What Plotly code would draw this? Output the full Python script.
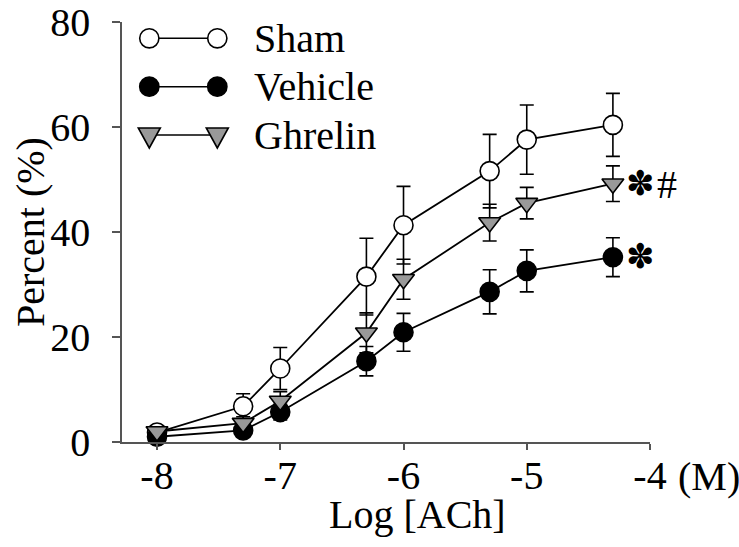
import numpy as np
import plotly.graph_objects as go

# ---------------- data ----------------
ach_molar = [1e-8, 5e-8, 1e-7, 5e-7, 1e-6, 5e-6, 1e-5, 5e-5]
log_ach = list(np.log10(ach_molar))

series_names = ["Sham", "Vehicle", "Ghrelin"]
sham = [1.8, 6.8, 14.0, 31.5, 41.3, 51.6, 57.6, 60.4]
sham_err = [0.8, 2.4, 4.0, 7.3, 7.4, 7.0, 6.6, 6.0]
vehicle = [1.0, 2.2, 5.7, 15.4, 20.9, 28.6, 32.6, 35.2]
vehicle_err = [0.5, 1.0, 1.5, 2.8, 3.6, 4.2, 4.0, 3.7]
ghrelin = [2.0, 3.6, 7.8, 20.8, 31.0, 41.8, 45.5, 49.2]
ghrelin_err = [0.5, 1.2, 1.8, 3.8, 3.8, 3.5, 3.0, 3.4]

x_ticks = [-8, -7, -6, -5, -4]
x_tick_labels = ["-8", "-7", "-6", "-5", "-4"]
y_ticks = [0, 20, 40, 60, 80]
y_tick_labels = ["0", "20", "40", "60", "80"]

sig_labels = {"Ghrelin": "#", "Vehicle": ""}

# ---------------- style ----------------
FONT = "Liberation Serif, Times New Roman, serif"
FS = 40
W, H = 739, 547
ML, MR, MT, MB = 122, 89, 22, 105
PW, PH = W - ML - MR, H - MT - MB

styles = {
    "Sham": dict(symbol="circle", size=19, color="white"),
    "Vehicle": dict(symbol="circle", size=19, color="black"),
    "Ghrelin": dict(symbol="triangle-down", size=19, color="#999999"),
}
values = {"Sham": (sham, sham_err), "Vehicle": (vehicle, vehicle_err), "Ghrelin": (ghrelin, ghrelin_err)}

fig = go.Figure()
for name in series_names:
    y, e = values[name]
    st = styles[name]
    fig.add_trace(go.Scatter(
        x=log_ach, y=y, name=name, mode="lines+markers",
        line=dict(color="black", width=1.8),
        marker=dict(symbol=st["symbol"], size=st["size"], color=st["color"],
                    line=dict(color="black", width=1.6)),
        error_y=dict(type="data", array=e, visible=True, color="black",
                     thickness=1.6, width=7),
        showlegend=False, cliponaxis=False,
    ))

# ---------------- custom legend (two symbols joined by a line) ----------------
def px2paper_x(px):
    return (px - ML) / PW

def px2paper_y(py):
    return (MT + PH - py) / PH

legend_rows = [38.3, 86.7, 135.0]
leg_x0, leg_x1, leg_text_x = 149.3, 217.3, 252
shapes = []
annotations = []
for name, ry in zip(series_names, legend_rows):
    yp = px2paper_y(ry)
    shapes.append(dict(type="line", xref="paper", yref="paper",
                       x0=px2paper_x(leg_x0), x1=px2paper_x(leg_x1), y0=yp, y1=yp,
                       line=dict(color="black", width=1.6), layer="above"))
    st = styles[name]
    for lx in (leg_x0, leg_x1):
        xa = px2paper_x(lx)
        if st["symbol"] == "circle":
            shapes.append(dict(type="circle", xref="paper", yref="paper",
                               xsizemode="pixel", ysizemode="pixel",
                               xanchor=xa, yanchor=yp,
                               x0=-9.6, x1=9.6, y0=-9.6, y1=9.6,
                               fillcolor=st["color"], line=dict(color="black", width=1.6),
                               layer="above"))
        else:
            shapes.append(dict(type="path", xref="paper", yref="paper",
                               xsizemode="pixel", ysizemode="pixel",
                               xanchor=xa, yanchor=yp,
                               path="M-11,7 L11,7 L0,-13 Z",
                               fillcolor=st["color"], line=dict(color="black", width=1.6),
                               layer="above"))
    annotations.append(dict(text=name, xref="paper", yref="paper",
                            x=px2paper_x(leg_text_x), y=yp, xanchor="left", yanchor="middle",
                            showarrow=False, font=dict(family=FONT, size=FS, color="black")))

# significance marks next to the last points
for name, extra in sig_labels.items():
    y, _ = values[name]
    annotations.append(dict(text="✽", x=log_ach[-1], y=y[-1], xref="x", yref="y",
                            xanchor="center", yanchor="middle", xshift=28, yshift=1,
                            showarrow=False,
                            font=dict(family="DejaVu Sans", size=34, color="black")))
    if extra:
        annotations.append(dict(text=extra, x=log_ach[-1], y=y[-1], xref="x", yref="y",
                                xanchor="center", yanchor="middle", xshift=54, yshift=-1,
                                showarrow=False,
                                font=dict(family=FONT, size=FS, color="black")))

# axis titles and unit label
annotations.append(dict(text="Log [ACh]", xref="paper", yref="paper",
                        x=px2paper_x(417), y=px2paper_y(514), xanchor="center", yanchor="middle",
                        showarrow=False, font=dict(family=FONT, size=FS, color="black")))
annotations.append(dict(text="Percent (%)", xref="paper", yref="paper",
                        x=px2paper_x(30), y=px2paper_y(232), xanchor="center", yanchor="middle",
                        textangle=-90, showarrow=False,
                        font=dict(family=FONT, size=FS, color="black")))
annotations.append(dict(text="(M)", xref="x", yref="paper",
                        x=-4, y=px2paper_y(476), xanchor="left", yanchor="middle",
                        xshift=26, showarrow=False,
                        font=dict(family=FONT, size=FS, color="black")))

axis_color = "#555555"
fig.update_layout(
    width=W, height=H,
    margin=dict(l=ML, r=MR, t=MT, b=MB, pad=0, autoexpand=False),
    paper_bgcolor="white", plot_bgcolor="white",
    font=dict(family=FONT, size=FS, color="black"),
    shapes=shapes, annotations=annotations,
    xaxis=dict(range=[-8 - 35 / 123.2, -4], tickvals=x_ticks, ticktext=x_tick_labels,
               automargin=False, ticklabelstandoff=-9,
               showgrid=False, zeroline=False, showline=True, linecolor=axis_color,
               linewidth=1.5, ticks="outside", ticklen=6, tickwidth=1.5, tickcolor=axis_color,
               tickfont=dict(family=FONT, size=FS, color="black")),
    yaxis=dict(range=[0, 80], tickvals=y_ticks, ticktext=y_tick_labels,
               automargin=False,
               showgrid=False, zeroline=False, showline=True, linecolor=axis_color,
               linewidth=1.5, ticks="outside", ticklen=8, tickwidth=1.5, tickcolor=axis_color,
               ticklabelstandoff=14,
               tickfont=dict(family=FONT, size=FS, color="black")),
)

fig.write_html("out.html", config={"displayModeBar": False},
               post_script="document.body.style.margin='0';document.body.style.padding='0';")
